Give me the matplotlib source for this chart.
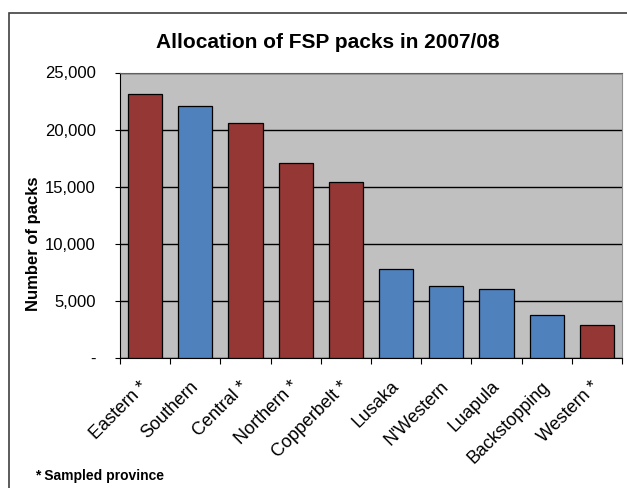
import matplotlib.pyplot as plt
from matplotlib.patches import Rectangle
import numpy as np

provinces = ['Eastern *', 'Southern', 'Central *', 'Northern *', 'Copperbelt *',
             'Lusaka', "N'Western", 'Luapula', 'Backstopping', 'Western *']
packs = [23100, 22100, 20600, 17100, 15400, 7750, 6250, 6030, 3760, 2860]
sampled = [True, False, True, True, True, False, False, False, False, True]
yticks = [0, 5000, 10000, 15000, 20000, 25000]
ylabels = ['-', '5,000', '10,000', '15,000', '20,000', '25,000']

red = '#953735'
blue = '#4F81BD'

plt.rcParams['font.family'] = ['Liberation Sans', 'DejaVu Sans']

fig = plt.figure(figsize=(6.27, 4.88), dpi=100)
# outer chart border (runs off the right and bottom of the image)
fig.patches.append(Rectangle((9 / 627, -0.1), 1.2, 1.1 - 13 / 488, transform=fig.transFigure,
                             fill=False, edgecolor='#404040', linewidth=1.2))

# plot area in pixels: x 120..622, y 72.5..357.7
ax = fig.add_axes([120 / 627, (488 - 357.7) / 488, 502 / 627, 285.2 / 488])
ax.set_facecolor('#C0C0C0')

x = np.arange(len(provinces))
colors = [red if s else blue for s in sampled]
ax.bar(x, packs, width=0.68, color=colors, edgecolor='black', linewidth=0.9, zorder=3)

ax.set_xlim(-0.5, len(provinces) - 0.5)
ax.set_ylim(0, 25000)
ax.set_yticks(yticks)
ax.set_yticklabels(ylabels, fontsize=12)
ax.yaxis.grid(True, color='black', linewidth=1, zorder=1)
ax.set_axisbelow(True)

# category boundary ticks, labels centred under bars
ax.set_xticks(np.arange(len(provinces) + 1) - 0.5)
ax.set_xticklabels([])
ax.set_xticks(x, minor=True)
ax.set_xticklabels(provinces, minor=True, rotation=45, ha='right', va='center',
                   rotation_mode='anchor', fontsize=13)
ax.tick_params(axis='x', which='minor', length=0, pad=19)
ax.tick_params(axis='x', which='major', length=4, direction='out', color='black')
ax.tick_params(axis='y', length=3.5, direction='out', color='black', pad=14)

ax.spines['top'].set_color('#606060')
ax.spines['right'].set_color('#909090')
for s in ['left', 'bottom']:
    ax.spines[s].set_color('black')

ax.set_ylabel('Number of packs', fontsize=12, fontweight='bold', labelpad=6)
ax.yaxis.set_label_coords(34 / 627, 0.5, transform=fig.transFigure)
ax.yaxis.label.set_verticalalignment('center')
fig.text(328 / 627, 1 - 42 / 488, 'Allocation of FSP packs in 2007/08', ha='center', va='center',
         fontsize=15, fontweight='bold')
fig.text(35 / 627, 1 - 476 / 488, '* Sampled province', ha='left', va='center',
         fontsize=10, fontweight='bold')

fig.savefig('out.png', dpi=100)
